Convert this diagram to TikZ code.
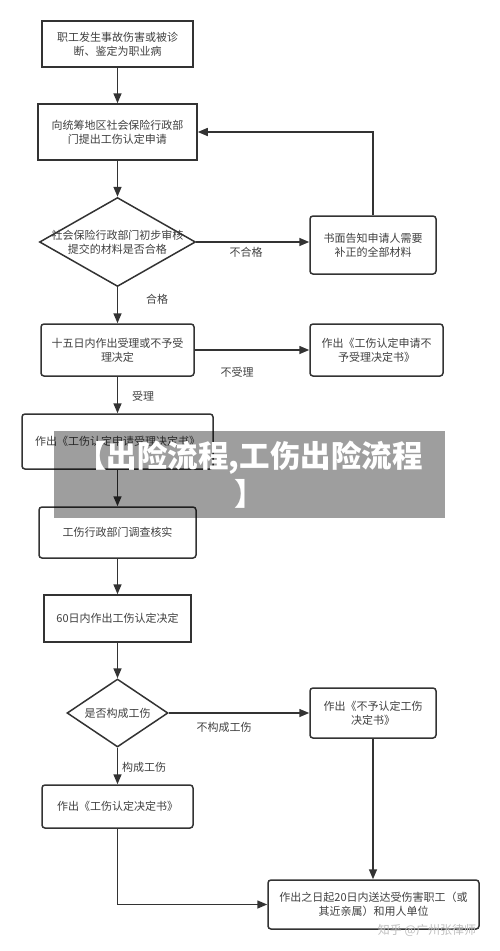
\documentclass[tikz,border=0pt]{standalone}
\usepackage{fontspec}
\setmainfont{Noto Sans CJK SC}
\usepackage{xcolor}
\usetikzlibrary{shapes.geometric,arrows.meta}
\definecolor{ink}{HTML}{333333}
\definecolor{txt}{HTML}{404040}
\begin{document}
\begin{tikzpicture}[x=1pt, y=-1pt, font=\fontsize{11}{14}\selectfont, text=txt,
	box/.style={draw=ink, line width=1.5pt, fill=white, align=center, inner sep=0pt},
	rbox/.style={box, rounded corners=3pt},
	decision/.style={diamond, draw=ink, line width=1.5pt, fill=white, inner sep=0pt},
	link/.style={draw=ink, line width=1.5pt, -{Triangle[length=10pt,width=8pt]}},
	tag/.style={inner sep=0pt}]
 \useasboundingbox (0,0) rectangle (500,951);

 \node[box, minimum width=151pt, minimum height=46pt] (injury) at (117.5,44) {职工发生事故伤害或被诊\\断、鉴定为职业病};
 \node[box, minimum width=159pt, minimum height=56pt] (apply) at (117.5,132) {向统筹地区社会保险行政部\\门提出工伤认定申请};
 \node[decision, minimum width=156pt, minimum height=89pt,
       label={[align=center]center:社会保险行政部门初步审核\\提交的材料是否合格}] (check) at (117.5,242) {};
 \node[rbox, minimum width=126pt, minimum height=58pt] (notice) at (373,245) {书面告知申请人需要\\补正的全部材料};
 \node[rbox, minimum width=153pt, minimum height=52pt] (fifteen) at (117.5,350) {十五日内作出受理或不予受\\理决定};
 \node[rbox, minimum width=133pt, minimum height=52pt] (refuse) at (376.5,350) {作出《工伤认定申请不\\予受理决定书》};
 \node[rbox, minimum width=191pt, minimum height=55pt] (accept) at (117.5,441.5) {作出《工伤认定申请受理决定书》};
 \node[rbox, minimum width=157pt, minimum height=51pt] (survey) at (117.5,532.5) {工伤行政部门调查核实};
 \node[box, minimum width=147pt, minimum height=47pt] (sixty) at (117.5,618.5) {60日内作出工伤认定决定};
 \node[decision, minimum width=101pt, minimum height=68pt,
       label={center:是否构成工伤}] (judge) at (117.5,713) {};
 \node[rbox, minimum width=126pt, minimum height=50pt] (deny) at (373,713) {作出《不予认定工伤\\决定书》};
 \node[rbox, minimum width=151pt, minimum height=43pt] (confirm) at (117.5,806.5) {作出《工伤认定决定书》};
 \node[rbox, minimum width=211pt, minimum height=49pt] (deliver) at (373.5,904.5) {作出之日起20日内送达受伤害职工（或\\其近亲属）和用人单位};

 \draw[link] (injury) -- (apply);
 \draw[link] (apply) -- (check);
 \draw[link] (check.east) -- (check.east -| notice.west);
 \draw[link] (notice.north) |- (apply.east);
 \draw[link] (check) -- (fifteen);
 \draw[link] (fifteen.east) -- (fifteen.east -| refuse.west);
 \draw[link] (fifteen) -- (accept);
 \draw[link] (accept) -- (survey);
 \draw[link] (survey) -- (sixty);
 \draw[link] (sixty) -- (judge);
 \draw[link] (judge.east) -- (judge.east -| deny.west);
 \draw[link] (judge) -- (confirm);
 \draw[link] (deny.south) -- (deny.south |- deliver.north);
 \draw[link] (confirm.south) |- (deliver.west);

 \node[tag] (fail) at (246,252) {不合格};
 \node[tag] (pass) at (157,299) {合格};
 \node[tag] (noacc) at (237,372) {不受理};
 \node[tag] (acc) at (143,396) {受理};
 \node[tag] (noinj) at (224,727) {不构成工伤};
 \node[tag] (inj) at (144,767) {构成工伤};

 \node[fill=black, fill opacity=0.38, text opacity=1, text=white, minimum width=391pt, minimum height=87pt,
       align=center, font=\fontsize{30.5}{38}\selectfont\bfseries] (banner) at (249.5,474.5) {【出险流程,工伤出险流程\\】};
 \node[text=black!25, font=\fontsize{12}{12}\selectfont] (mark) at (427,930) {知乎 @广州张律师};
\end{tikzpicture}
\end{document}
